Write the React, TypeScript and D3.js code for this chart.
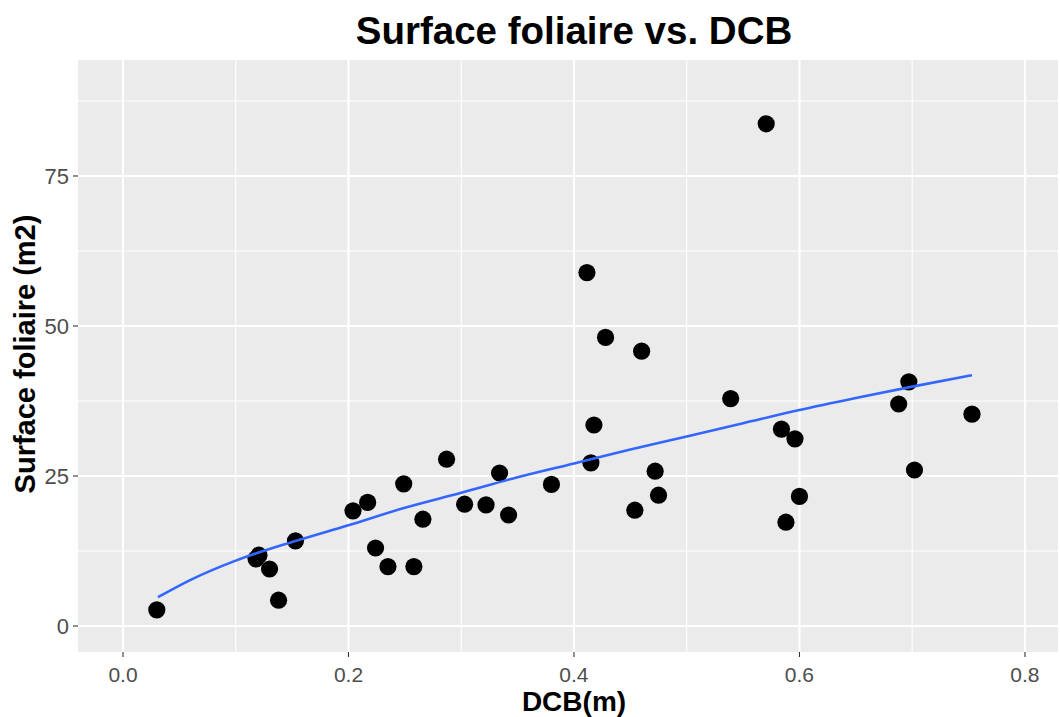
import React from "react";
import * as d3 from "d3";

const dcb = [0.030, 0.1206, 0.118, 0.130, 0.138, 0.153, 0.204, 0.217, 0.224, 0.235, 0.258, 0.249, 0.266, 0.287, 0.303, 0.322, 0.334, 0.342, 0.380, 0.4115, 0.428, 0.460, 0.4177, 0.415, 0.472, 0.475, 0.454, 0.539, 0.584, 0.596, 0.600, 0.588, 0.697, 0.688, 0.753, 0.702, 0.5705];
const surface = [2.7, 11.8, 11.2, 9.5, 4.3, 14.2, 19.2, 20.6, 13.0, 9.9, 9.9, 23.7, 17.8, 27.8, 20.3, 20.2, 25.5, 18.5, 23.6, 58.9, 48.1, 45.8, 33.5, 27.2, 25.8, 21.8, 19.3, 37.9, 32.8, 31.2, 21.6, 17.3, 40.7, 37.0, 35.3, 26.0, 83.7];

const smoothX = [0.031, 0.06, 0.1, 0.15, 0.2, 0.25, 0.3, 0.35, 0.4, 0.45, 0.5, 0.55, 0.6, 0.65, 0.7, 0.753];
const smoothY = [4.8, 7.7, 10.9, 14.0, 16.8, 19.7, 22.2, 24.8, 27.1, 29.4, 31.6, 33.8, 36.0, 38.0, 39.9, 41.8];

const xTicks = [0, 0.2, 0.4, 0.6, 0.8];
const xMinor = [0.1, 0.3, 0.5, 0.7];
const yTicks = [0, 25, 50, 75];
const yMinor = [12.5, 37.5, 62.5, 87.5];

const W = 1060;
const H = 717;
const P = { left: 78, right: 1058, top: 60, bottom: 652 };
const FONT = "'Liberation Sans', Arial, Helvetica, sans-serif";

export default function App() {
  const x = d3.scaleLinear().domain([-0.0399, 0.8293]).range([P.left, P.right]);
  const y = d3.scaleLinear().domain([-4.33, 94.33]).range([P.bottom, P.top]);

  const line = d3
    .line<number>()
    .x((_, i) => x(smoothX[i]))
    .y((d) => y(d))
    .curve(d3.curveMonotoneX);

  return (
    <svg
      width={W}
      height={H}
      style={{ position: "absolute", left: 0, top: 0, background: "#fff" }}
      fontFamily={FONT}
    >
      <rect x={P.left} y={P.top} width={P.right - P.left} height={P.bottom - P.top} fill="#EBEBEB" />
      {xMinor.map((t) => (
        <line key={"xm" + t} x1={x(t)} x2={x(t)} y1={P.top} y2={P.bottom} stroke="#fff" strokeWidth={1.1} />
      ))}
      {yMinor.map((t) => (
        <line key={"ym" + t} x1={P.left} x2={P.right} y1={y(t)} y2={y(t)} stroke="#fff" strokeWidth={1.1} />
      ))}
      {xTicks.map((t) => (
        <line key={"xg" + t} x1={x(t)} x2={x(t)} y1={P.top} y2={P.bottom} stroke="#fff" strokeWidth={2.2} />
      ))}
      {yTicks.map((t) => (
        <line key={"yg" + t} x1={P.left} x2={P.right} y1={y(t)} y2={y(t)} stroke="#fff" strokeWidth={2.2} />
      ))}

      {dcb.map((d, i) => (
        <circle key={i} cx={x(d)} cy={y(surface[i])} r={8.6} fill="#000" />
      ))}
      <path d={line(smoothY) || ""} fill="none" stroke="#3366FF" strokeWidth={2.6} />

      {xTicks.map((t) => (
        <g key={"xt" + t}>
          <line x1={x(t)} x2={x(t)} y1={P.bottom} y2={P.bottom + 5} stroke="#333" strokeWidth={1.1} />
          <text x={x(t)} y={682} textAnchor="middle" fontSize={21} fill="#4D4D4D">
            {d3.format(".1f")(t)}
          </text>
        </g>
      ))}
      {yTicks.map((t) => (
        <g key={"yt" + t}>
          <line x1={P.left - 5} x2={P.left} y1={y(t)} y2={y(t)} stroke="#333" strokeWidth={1.1} />
          <text x={P.left - 9} y={y(t) + 8} textAnchor="end" fontSize={22} fill="#4D4D4D">
            {t}
          </text>
        </g>
      ))}

      <text x={574} y={711} textAnchor="middle" fontSize={28} fontWeight="bold" fill="#000">
        DCB(m)
      </text>
      <text
        transform={`translate(35,354) rotate(-90)`}
        textAnchor="middle"
        fontSize={29}
        fontWeight="bold"
        fill="#000"
      >
        Surface foliaire (m2)
      </text>
      <text x={574} y={44} textAnchor="middle" fontSize={38.5} fontWeight="bold" fill="#000">
        Surface foliaire vs. DCB
      </text>
    </svg>
  );
}
